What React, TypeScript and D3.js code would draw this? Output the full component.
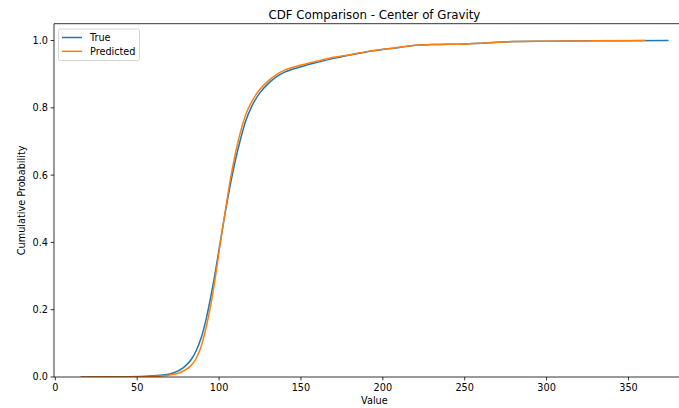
import React from "react";
import * as d3 from "d3";

// Empirical CDF samples: [value, cumulative probability]
const trueCdf: [number, number][] = [
  [16, 0], [40, 0.0005], [55, 0.002], [64, 0.005], [70, 0.009], [75, 0.018],
  [79, 0.031], [83, 0.052], [86, 0.078], [89, 0.115], [92, 0.17], [95, 0.24],
  [98, 0.32], [101, 0.41], [104, 0.495], [107, 0.575], [110, 0.645], [113, 0.705],
  [116, 0.757], [120, 0.805], [125, 0.845], [130, 0.872], [135, 0.892], [140, 0.906],
  [150, 0.922], [160, 0.935], [170, 0.947], [180, 0.957], [190, 0.966], [200, 0.973],
  [210, 0.979], [220, 0.986], [230, 0.988], [250, 0.99], [260, 0.992], [270, 0.995],
  [280, 0.997], [300, 0.998], [330, 0.999], [374, 1.0],
];

const predictedCdf: [number, number][] = [
  [16, 0], [40, 0.0003], [55, 0.001], [64, 0.003], [70, 0.006], [75, 0.011],
  [79, 0.02], [82, 0.03], [86, 0.055], [89, 0.09], [92, 0.145], [95, 0.215],
  [98, 0.305], [101, 0.405], [104, 0.5], [107, 0.59], [110, 0.665], [113, 0.727],
  [116, 0.776], [119, 0.81], [125, 0.855], [130, 0.88], [135, 0.899], [140, 0.912],
  [150, 0.927], [160, 0.939], [170, 0.95], [180, 0.958], [190, 0.967], [200, 0.974],
  [210, 0.98], [220, 0.986], [230, 0.988], [250, 0.99], [260, 0.992], [270, 0.995],
  [280, 0.997], [300, 0.998], [330, 0.999], [360, 1.0],
];

const xTicks = [0, 50, 100, 150, 200, 250, 300, 350];
const yTicks = [0, 0.2, 0.4, 0.6, 0.8, 1.0];

const seriesNames = ["True", "Predicted"];
const seriesColors = ["#1f77b4", "#ff7f0e"];

const W = 679;
const H = 408;
const left = 54;
const right = 694.8;
const top = 23.7;
const bottom = 377;
const font = "DejaVu Sans, sans-serif";

export default function App() {
  const x = d3.scaleLinear().domain([-0.8, 390.5]).range([left, right]);
  const y = d3.scaleLinear().domain([0, 1.05]).range([bottom, top]);
  const line = d3
    .line<[number, number]>()
    .x((d) => x(d[0]))
    .y((d) => y(d[1]))
    .curve(d3.curveMonotoneX);

  const series = [trueCdf, predictedCdf];
  const cx = (left + right) / 2;

  return (
    <svg
      width={W}
      height={H}
      style={{ position: "absolute", left: 0, top: 0, background: "#fff" }}
      fontFamily={font}
    >
      <defs>
        <clipPath id="plot-area">
          <rect x={left} y={top} width={right - left} height={bottom - top} />
        </clipPath>
      </defs>
      <rect x={0} y={0} width={W} height={H} fill="#fff" />

      <g clipPath="url(#plot-area)">
        {series.map((s, i) => (
          <path
            key={seriesNames[i]}
            d={line(s) || ""}
            fill="none"
            stroke={seriesColors[i]}
            strokeWidth={1.5}
            strokeLinejoin="round"
            strokeLinecap="square"
          />
        ))}
      </g>

      {/* spines */}
      <g stroke="#000" strokeWidth={0.8} fill="none">
        <line x1={left} y1={top} x2={left} y2={bottom} />
        <line x1={left} y1={bottom} x2={right} y2={bottom} />
        <line x1={left} y1={top} x2={right} y2={top} />
        <line x1={right} y1={top} x2={right} y2={bottom} />
      </g>

      {/* x axis */}
      {xTicks.map((t) => (
        <g key={"x" + t}>
          <line x1={x(t)} x2={x(t)} y1={bottom} y2={bottom + 3.4} stroke="#000" strokeWidth={0.8} />
          <text x={x(t)} y={bottom + 14} fontSize={9.7} textAnchor="middle" fill="#000">
            {t}
          </text>
        </g>
      ))}
      <text x={cx} y={404} fontSize={9.7} textAnchor="middle" fill="#000">
        Value
      </text>

      {/* y axis */}
      {yTicks.map((t) => (
        <g key={"y" + t}>
          <line x1={left - 3.4} x2={left} y1={y(t)} y2={y(t)} stroke="#000" strokeWidth={0.8} />
          <text x={left - 6} y={y(t) + 3.4} fontSize={9.7} textAnchor="end" fill="#000">
            {t.toFixed(1)}
          </text>
        </g>
      ))}
      <text
        transform={`translate(25, ${(top + bottom) / 2}) rotate(-90)`}
        fontSize={9.7}
        textAnchor="middle"
        fill="#000"
      >
        Cumulative Probability
      </text>

      {/* title */}
      <text x={cx} y={18.5} fontSize={11.8} textAnchor="middle" fill="#000">
        CDF Comparison - Center of Gravity
      </text>

      {/* legend */}
      <g>
        <rect x={58.5} y={29} width={81} height={31.5} rx={2} fill="#fff" fillOpacity={0.8} stroke="#ccc" strokeWidth={0.8} />
        {seriesNames.map((n, i) => (
          <g key={n}>
            <line x1={62} x2={82} y1={37.5 + i * 13.8} y2={37.5 + i * 13.8} stroke={seriesColors[i]} strokeWidth={1.5} />
            <text x={90} y={41 + i * 13.8} fontSize={9.7} fill="#000">
              {n}
            </text>
          </g>
        ))}
      </g>
    </svg>
  );
}
